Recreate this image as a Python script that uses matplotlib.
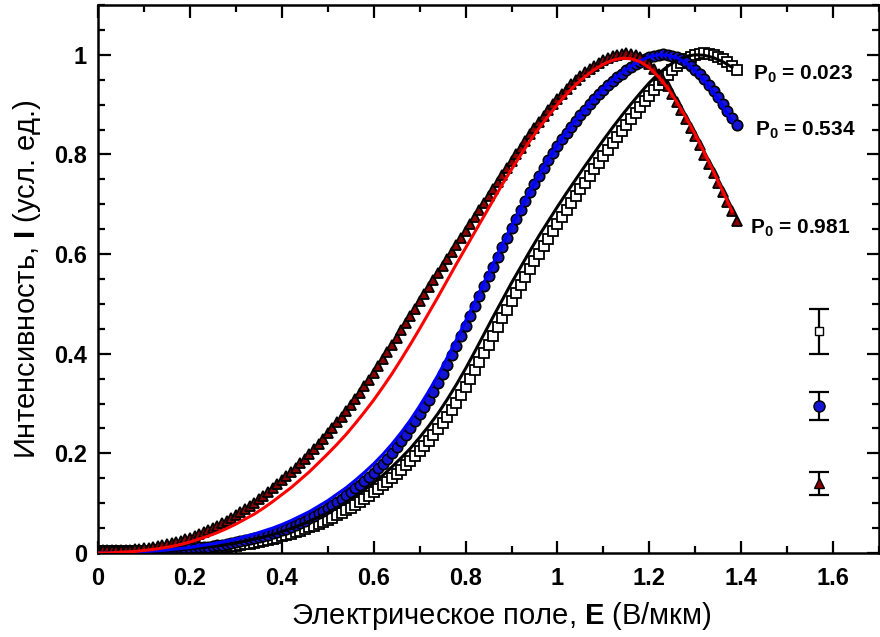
import numpy as np
import matplotlib
matplotlib.use("Agg")
import matplotlib.pyplot as plt
from matplotlib.ticker import MultipleLocator, FuncFormatter

plt.rcParams['font.family'] = ['Liberation Sans', 'DejaVu Sans']
plt.rcParams['mathtext.fontset'] = 'custom'
plt.rcParams['mathtext.rm'] = 'Liberation Sans:bold'
plt.rcParams['mathtext.bf'] = 'Liberation Sans:bold'
plt.rcParams['mathtext.default'] = 'rm'

# --- measured points, E (V/um) every 0.01 ---
E_pts = np.round(np.arange(0, 1.395, 0.01), 2)

# P0 = 0.023 (open squares)
I_sq = [0.004, 0.004, 0.004, 0.004, 0.004, 0.004, 0.004, 0.004, 0.004, 0.004,
        0.004, 0.004, 0.004, 0.005, 0.005, 0.005, 0.005, 0.006, 0.006, 0.007,
        0.007, 0.008, 0.008, 0.009, 0.009, 0.010, 0.011, 0.012, 0.013, 0.014,
        0.015, 0.016, 0.018, 0.019, 0.021, 0.023, 0.025, 0.027, 0.029, 0.031,
        0.034, 0.036, 0.039, 0.042, 0.045, 0.048, 0.052, 0.055, 0.059, 0.063,
        0.067, 0.071, 0.076, 0.081, 0.086, 0.091, 0.097, 0.103, 0.109, 0.115,
        0.122, 0.129, 0.136, 0.143, 0.151, 0.159, 0.167, 0.176, 0.185, 0.194,
        0.204, 0.214, 0.225, 0.236, 0.248, 0.260, 0.272, 0.287, 0.302, 0.318,
        0.334, 0.350, 0.367, 0.384, 0.401, 0.418, 0.436, 0.453, 0.471, 0.488,
        0.505, 0.522, 0.538, 0.554, 0.570, 0.586, 0.601, 0.616, 0.631, 0.646,
        0.660, 0.674, 0.688, 0.702, 0.716, 0.730, 0.743, 0.757, 0.770, 0.783,
        0.796, 0.809, 0.822, 0.835, 0.847, 0.859, 0.871, 0.883, 0.895, 0.907,
        0.918, 0.929, 0.940, 0.950, 0.960, 0.969, 0.977, 0.984, 0.991, 0.996,
        1.000, 1.002, 1.003, 1.002, 0.999, 0.995, 0.991, 0.985, 0.978, 0.970]

# P0 = 0.534 (blue circles)
I_ci = [0.003, 0.003, 0.003, 0.003, 0.003, 0.003, 0.003, 0.003, 0.003, 0.003,
        0.004, 0.004, 0.004, 0.004, 0.005, 0.005, 0.006, 0.006, 0.007, 0.008,
        0.009, 0.010, 0.011, 0.012, 0.013, 0.014, 0.016, 0.017, 0.019, 0.020,
        0.022, 0.024, 0.026, 0.028, 0.030, 0.032, 0.035, 0.037, 0.040, 0.043,
        0.046, 0.049, 0.053, 0.057, 0.061, 0.065, 0.070, 0.075, 0.080, 0.085,
        0.091, 0.097, 0.103, 0.109, 0.116, 0.123, 0.130, 0.137, 0.145, 0.153,
        0.161, 0.170, 0.179, 0.189, 0.200, 0.212, 0.224, 0.237, 0.250, 0.264,
        0.278, 0.293, 0.308, 0.324, 0.341, 0.359, 0.378, 0.397, 0.416, 0.435,
        0.455, 0.475, 0.495, 0.515, 0.535, 0.555, 0.575, 0.595, 0.614, 0.633,
        0.652, 0.671, 0.689, 0.707, 0.724, 0.741, 0.757, 0.773, 0.788, 0.803,
        0.817, 0.831, 0.844, 0.856, 0.868, 0.879, 0.890, 0.901, 0.911, 0.921,
        0.930, 0.939, 0.947, 0.955, 0.962, 0.969, 0.975, 0.981, 0.986, 0.991,
        0.995, 0.998, 1.000, 1.001, 1.000, 0.998, 0.995, 0.991, 0.985, 0.978,
        0.970, 0.961, 0.951, 0.940, 0.928, 0.915, 0.901, 0.887, 0.873, 0.860]

# P0 = 0.981 (triangles)
I_tr = [0.005, 0.005, 0.005, 0.005, 0.005, 0.005, 0.006, 0.006, 0.007, 0.008,
        0.009, 0.010, 0.012, 0.014, 0.016, 0.018, 0.020, 0.022, 0.025, 0.028,
        0.031, 0.034, 0.038, 0.042, 0.046, 0.050, 0.055, 0.060, 0.065, 0.070,
        0.076, 0.082, 0.088, 0.094, 0.101, 0.108, 0.115, 0.122, 0.130, 0.138,
        0.146, 0.154, 0.162, 0.171, 0.180, 0.189, 0.199, 0.209, 0.219, 0.229,
        0.240, 0.251, 0.262, 0.273, 0.285, 0.297, 0.310, 0.322, 0.335, 0.348,
        0.362, 0.376, 0.390, 0.404, 0.418, 0.432, 0.447, 0.461, 0.476, 0.490,
        0.505, 0.519, 0.534, 0.548, 0.562, 0.576, 0.590, 0.604, 0.618, 0.632,
        0.646, 0.660, 0.674, 0.688, 0.702, 0.716, 0.730, 0.744, 0.758, 0.772,
        0.786, 0.800, 0.813, 0.827, 0.840, 0.853, 0.866, 0.878, 0.890, 0.901,
        0.912, 0.922, 0.932, 0.941, 0.950, 0.958, 0.965, 0.972, 0.978, 0.984,
        0.989, 0.993, 0.997, 1.000, 1.002, 1.003, 1.002, 0.999, 0.995, 0.989,
        0.982, 0.972, 0.962, 0.950, 0.937, 0.922, 0.906, 0.889, 0.872, 0.854,
        0.836, 0.818, 0.799, 0.781, 0.762, 0.743, 0.724, 0.705, 0.686, 0.667]

# --- fitted curves, E every 0.02 ---
E_fit = np.round(np.arange(0, 1.381, 0.02), 2)
fit_sq = [0.000, 0.000, 0.001, 0.001, 0.002, 0.002, 0.003, 0.004, 0.005, 0.006,
          0.008, 0.010, 0.012, 0.014, 0.017, 0.020, 0.024, 0.028, 0.032, 0.037,
          0.043, 0.049, 0.056, 0.064, 0.072, 0.081, 0.091, 0.102, 0.114, 0.127,
          0.141, 0.156, 0.173, 0.191, 0.210, 0.232, 0.255, 0.280, 0.308, 0.338,
          0.370, 0.404, 0.439, 0.474, 0.508, 0.542, 0.574, 0.606, 0.637, 0.666,
          0.695, 0.723, 0.750, 0.777, 0.803, 0.829, 0.854, 0.878, 0.901, 0.923,
          0.944, 0.962, 0.977, 0.989, 0.997, 1.000, 0.999, 0.994, 0.986, 0.975]
fit_ci = [0.000, 0.000, 0.001, 0.001, 0.002, 0.003, 0.004, 0.005, 0.007, 0.009,
          0.011, 0.014, 0.017, 0.020, 0.024, 0.028, 0.033, 0.038, 0.044, 0.050,
          0.057, 0.065, 0.074, 0.083, 0.094, 0.105, 0.118, 0.131, 0.146, 0.162,
          0.179, 0.198, 0.219, 0.242, 0.267, 0.295, 0.325, 0.357, 0.392, 0.428,
          0.466, 0.504, 0.543, 0.581, 0.619, 0.656, 0.692, 0.726, 0.759, 0.790,
          0.819, 0.846, 0.870, 0.892, 0.913, 0.932, 0.949, 0.964, 0.977, 0.988,
          0.996, 1.000, 0.999, 0.994, 0.984, 0.968, 0.948, 0.924, 0.896, 0.866]
fit_tr = [0.000, 0.000, 0.001, 0.002, 0.003, 0.005, 0.007, 0.010, 0.013, 0.017,
          0.022, 0.028, 0.034, 0.041, 0.049, 0.058, 0.068, 0.078, 0.090, 0.103,
          0.117, 0.131, 0.147, 0.163, 0.181, 0.199, 0.218, 0.238, 0.260, 0.283,
          0.307, 0.333, 0.360, 0.389, 0.419, 0.450, 0.482, 0.514, 0.547, 0.580,
          0.612, 0.644, 0.676, 0.708, 0.740, 0.770, 0.799, 0.827, 0.853, 0.877,
          0.900, 0.921, 0.940, 0.956, 0.970, 0.981, 0.989, 0.993, 0.992, 0.986,
          0.974, 0.956, 0.933, 0.905, 0.874, 0.840, 0.803, 0.765, 0.726, 0.686]

labels = ['P$_0$ = 0.023', 'P$_0$ = 0.534', 'P$_0$ = 0.981']
label_pos = [(1.425, 0.96), (1.43, 0.848), (1.42, 0.652)]

# typical error bars shown at the right
err_x = 1.57
err_y = [0.445, 0.295, 0.14]
err_h = [0.045, 0.028, 0.023]

fig = plt.figure(figsize=(8.8, 6.37), dpi=100)
ax = fig.add_axes([0.1114, 0.1319, 0.8875, 0.8603])

ms = 7.5
ax.plot(E_pts, I_sq, 's', ms=ms, mfc='white', mec='black', mew=1.3, zorder=2)
ax.plot(E_pts, I_ci, 'o', ms=ms, mfc='#1414d2', mec='black', mew=1.2, zorder=2)
ax.plot(E_pts, I_tr, '^', ms=ms, mfc='#8b0000', mec='black', mew=1.3, zorder=2)

ax.plot(E_fit, fit_sq, '-', color='black', lw=2.2, zorder=3)
ax.plot(E_fit, fit_ci, '-', color='#0000ff', lw=2.2, zorder=3)
ax.plot(E_fit, fit_tr, '-', color='#ff0000', lw=2.2, zorder=3)

for (lx, ly), txt in zip(label_pos, labels):
    ax.text(lx, ly, txt, fontsize=15, fontweight='bold', va='center', ha='left')

styles = [dict(marker='s', ms=6, mfc='white'),
          dict(marker='o', ms=8, mfc='#1414d2'),
          dict(marker='^', ms=7, mfc='#8b0000')]
for y, h, st in zip(err_y, err_h, styles):
    ax.errorbar([err_x], [y], yerr=[h], fmt='none', ecolor='black',
                elinewidth=1.6, capsize=7, capthick=1.6, zorder=3)
    ax.plot([err_x], [y], ls='none', mec='black', mew=1.0, zorder=4, **st)

ax.set_xlim(0, 1.7)
ax.set_ylim(0, 1.1)
ax.xaxis.set_major_locator(MultipleLocator(0.2))
ax.xaxis.set_minor_locator(MultipleLocator(0.1))
ax.yaxis.set_major_locator(MultipleLocator(0.2))
ax.yaxis.set_minor_locator(MultipleLocator(0.05))
fmt = FuncFormatter(lambda v, p: f'{v:g}')
ax.xaxis.set_major_formatter(fmt)
ax.yaxis.set_major_formatter(fmt)

ax.tick_params(which='both', direction='in', top=True, right=True, width=1.6)
ax.tick_params(which='major', length=9, labelsize=17)
ax.tick_params(axis='x', which='major', pad=10)
ax.tick_params(axis='y', which='major', pad=8)
ax.tick_params(which='minor', length=5)
for lab in ax.get_xticklabels() + ax.get_yticklabels():
    lab.set_fontweight('bold')
for sp in ax.spines.values():
    sp.set_linewidth(1.8)

ax.set_xlabel(r'Электрическое поле, $\mathbf{E}$ (В/мкм)', fontsize=21, labelpad=4)
ax.xaxis.set_label_coords(0.517, -0.085)
ax.set_ylabel(r'Интенсивность, $\mathbf{I}$ (усл. ед.)', fontsize=21, labelpad=8)

fig.savefig('out.png', dpi=100)
